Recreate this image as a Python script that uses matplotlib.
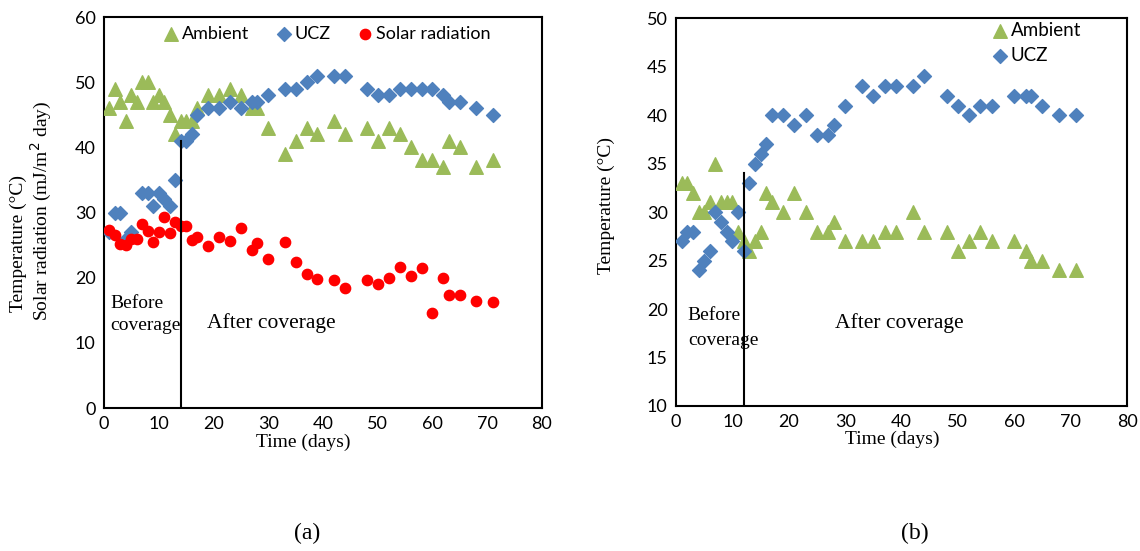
import matplotlib
matplotlib.use('Agg')
import numpy as np
import matplotlib.pyplot as plt

#colors like the excel default palette
c_amb = '#9BBB59'
c_ucz = '#4F81BD'
c_sol = '#FF0000'

tick_font = ['Lato', 'DejaVu Sans']
serif_font = ['Liberation Serif', 'DejaVu Serif']

### data panel (a)
amb_a_days = [1,2,3,4,5,6,7,8,9,10,11,12,13,14,15,16,17,19,21,23,25,27,28,30,33,35,37,39,42,44,48,50,52,54,56,58,60,62,63,65,68,71]
amb_a = [46,49,47,44,48,47,50,50,47,48,47,45,42,44,44,44,46,48,48,49,48,46,46,43,39,41,43,42,44,42,43,41,43,42,40,38,38,37,41,40,37,38]

ucz_a_days = [1,2,3,4,5,7,8,9,10,11,12,13,14,15,16,17,19,21,23,25,27,28,30,33,35,37,39,42,44,48,50,52,54,56,58,60,62,63,65,68,71]
ucz_a = [27,30,30,26,27,33,33,31,33,32,31,35,41,41,42,45,46,46,47,46,47,47,48,49,49,50,51,51,51,49,48,48,49,49,49,49,48,47,47,46,45]

sol_a_days = [1,2,3,4,5,6,7,8,9,10,11,12,13,14,15,16,17,19,21,23,25,27,28,30,33,35,37,39,42,44,48,50,52,54,56,58,60,62,63,65,68,71]
sol_a = [27.3,26.6,25.1,25.0,26.0,26.0,28.2,27.2,25.4,27.0,29.3,26.8,28.6,27.9,27.9,25.8,26.2,
         24.9,26.2,25.6,27.6,24.2,25.3,22.9,25.4,22.4,20.6,19.8,19.7,18.4,19.7,19.0,19.9,21.6,20.3,21.5,14.6,20.0,17.4,17.4,16.4,16.3]

### data panel (b)
b_days = [1,2,3,4,5,6,7,8,9,10,11,12,13,14,15,16,17,19,21,23,25,27,28,30,33,35,37,39,42,44,48,50,52,54,56,60,62,63,65,68,71]
ucz_b = [27,28,28,24,25,26,30,29,28,27,30,26,33,35,36,37,40,40,39,40,38,38,39,41,43,42,43,43,43,44,42,41,40,41,41,42,42,42,41,40,40]
amb_b = [33,33,32,30,30,31,35,31,31,31,28,27,26,27,28,32,31,30,32,30,28,28,29,27,27,27,28,28,30,28,28,26,27,28,27,27,26,25,25,24,24]

#coverage lines (day, top value)
cover_a = (14, 41)
cover_b = (12, 34)

fig = plt.figure(figsize=(11.4, 5.51), dpi=100)
ax1 = fig.add_axes([0.0912, 0.2595, 0.3842, 0.7096])
ax2 = fig.add_axes([0.593, 0.2632, 0.3956, 0.7036])

def style_axis(ax, ymin, ymax, ystep, label_x):
    '''Sets limits, ticks and fonts like the excel chart'''
    ax.set_xlim(0, 80)
    ax.set_ylim(ymin, ymax)
    ax.set_xticks(np.arange(0, 81, 10))
    ax.set_yticks(np.arange(ymin, ymax + 1, ystep))
    ax.tick_params(length=0, pad=6, labelsize=13)
    for lab in ax.get_xticklabels() + ax.get_yticklabels():
        lab.set_family(tick_font)
    for s in ax.spines.values():
        s.set_linewidth(1.5)
        s.set_color('black')
    ax.set_xlabel('Time (days)', family=serif_font, fontsize=14, labelpad=3)
    ax.xaxis.set_label_coords(label_x, -0.065)

leg_kw = dict(frameon=False, handlelength=0.6, handletextpad=0.3,
              borderaxespad=0, borderpad=0, markerscale=1.0)

#panel (a)
ax1.scatter(amb_a_days, amb_a, marker='^', s=95, color=c_amb, label='Ambient', zorder=3)
ax1.scatter(ucz_a_days, ucz_a, marker='D', s=50, color=c_ucz, label='UCZ', zorder=3)
ax1.scatter(sol_a_days, sol_a, marker='o', s=55, color=c_sol, label='Solar radiation', zorder=4)
ax1.plot([cover_a[0], cover_a[0]], [0, cover_a[1]], color='black', lw=1.5, zorder=5)
style_axis(ax1, 0, 60, 10, 0.454)
ax1.text(1.1, 16.1, 'Before', family=serif_font, fontsize=14, va='center')
ax1.text(1.1, 12.7, 'coverage', family=serif_font, fontsize=14, va='center')
ax1.text(18.8, 13.0, 'After coverage', family=serif_font, fontsize=15.5, va='center')
ax1.legend(loc='center left', bbox_to_anchor=(0.1416, 0.957), ncol=3, columnspacing=1.6,
           prop={'family': tick_font, 'size': 13}, **leg_kw)

#panel (b)
ax2.scatter(b_days, amb_b, marker='^', s=95, color=c_amb, label='Ambient', zorder=3)
ax2.scatter(b_days, ucz_b, marker='D', s=50, color=c_ucz, label='UCZ', zorder=3)
ax2.plot([cover_b[0], cover_b[0]], [10, cover_b[1]], color='black', lw=1.5, zorder=5)
style_axis(ax2, 10, 50, 5, 0.48)
ax2.text(2.1, 19.3, 'Before', family=serif_font, fontsize=14, va='center')
ax2.text(2.1, 16.8, 'coverage', family=serif_font, fontsize=14, va='center')
ax2.text(28.2, 18.6, 'After coverage', family=serif_font, fontsize=15.5, va='center')
ax2.legend(loc='center left', bbox_to_anchor=(0.705, 0.936), ncol=1, labelspacing=0.4,
           prop={'family': tick_font, 'size': 13.5}, **leg_kw)

#y labels as separate texts
fig.text(18/1140, 1 - 243/551, 'Temperature (°C)', rotation=90, ha='center', va='center',
         family=serif_font, fontsize=14)
fig.text(41/1140, 1 - 211/551, 'Solar radiation (mJ/m$^2$ day)', rotation=90, ha='center', va='center',
         family=serif_font, fontsize=14)
fig.text(606/1140, 1 - 206/551, 'Temperature (°C)', rotation=90, ha='center', va='center',
         family=serif_font, fontsize=14)

#panel captions
fig.text(307/1140, 1 - 533/551, '(a)', ha='center', va='center', family=serif_font, fontsize=17)
fig.text(915/1140, 1 - 533/551, '(b)', ha='center', va='center', family=serif_font, fontsize=17)

fig.savefig('out.png', dpi=100)
